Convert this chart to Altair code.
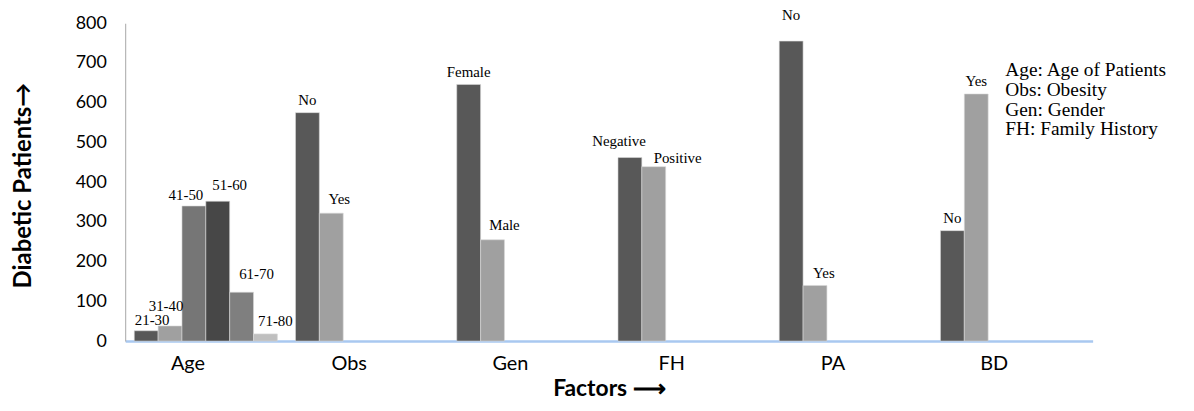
import altair as alt
import pandas as pd

# ---- data ----
factors = ["Age", "Obs", "Gen", "FH", "PA", "BD"]

age_labels = ["21-30", "31-40", "41-50", "51-60", "61-70", "71-80"]
age_values = [26, 38, 340, 352, 123, 18]

obs_labels = ["No", "Yes"]
obs_values = [575, 322]

gen_labels = ["Female", "Male"]
gen_values = [646, 255]

fh_labels = ["Negative", "Positive"]
fh_values = [462, 439]

pa_labels = ["No", "Yes"]
pa_values = [755, 140]

bd_labels = ["No", "Yes"]
bd_values = [278, 622]

y_ticks = [0, 100, 200, 300, 400, 500, 600, 700, 800]

legend_lines = [
    "Age: Age of Patients",
    "Obs: Obesity",
    "Gen: Gender",
    "FH: Family History",
]

# ---- styling (label nudges in px: dx, distance above bar top) ----
slot_colors = ["#585858", "#A0A0A0", "#767676", "#474747", "#7F7F7F", "#BFBFBF"]
LABEL_NUDGE = {
    ("Age", "21-30"): (6, 11),
    ("Age", "31-40"): (-4, 20),
    ("Age", "41-50"): (-8, 11),
    ("Age", "51-60"): (12, 16),
    ("Age", "61-70"): (15, 18),
    ("Age", "71-80"): (10, 13),
    ("Obs", "No"): (0, 13),
    ("Obs", "Yes"): (8, 14),
    ("Gen", "Female"): (0, 12),
    ("Gen", "Male"): (12, 15),
    ("FH", "Negative"): (-11, 17),
    ("FH", "Positive"): (24, 9),
    ("PA", "No"): (0, 26),
    ("PA", "Yes"): (9, 13),
    ("BD", "No"): (0, 13),
    ("BD", "Yes"): (0, 13),
}

groups = [
    ("Age", age_labels, age_values),
    ("Obs", obs_labels, obs_values),
    ("Gen", gen_labels, gen_values),
    ("FH", fh_labels, fh_values),
    ("PA", pa_labels, pa_values),
    ("BD", bd_labels, bd_values),
]
rows = []
for f, labs, vals in groups:
    for i, (lab, v) in enumerate(zip(labs, vals)):
        dx, up = LABEL_NUDGE.get((f, lab), (0, 13))
        rows.append({"factor": f, "slot": i, "label": lab, "value": v,
                     "ndx": dx, "ndy": -up})
df = pd.DataFrame(rows)

W, H = 974, 320
SANS = "Lato"

x_enc = alt.X(
    "factor:N",
    sort=factors,
    scale=alt.Scale(paddingInner=0, paddingOuter=0),
    axis=alt.Axis(
        title="Factors \u27f6",
        titleFont=SANS,
        titleFontSize=23,
        titleFontWeight="bold",
        titleColor="#000000",
        titleX=W / 2,
        titleY=48,
        titleBaseline="middle",
        labelFont=SANS,
        labelFontSize=20,
        labelColor="#000000",
        labelAngle=0,
        labelPadding=13,
        labelOffset=-18,
        ticks=False,
        domainColor="#A9C8F0",
        domainWidth=2.5,
    ),
)
xoff_enc = alt.XOffset(
    "slot:O",
    scale=alt.Scale(domain=[0, 1, 2, 3, 4, 5], paddingInner=0, paddingOuter=0.38),
)
y_enc = alt.Y(
    "value:Q",
    scale=alt.Scale(domain=[0, 800], nice=False),
    axis=alt.Axis(
        values=y_ticks,
        labelOverlap=False,
        title="Diabetic Patients\u2192",
        titleFont=SANS,
        titleFontSize=24,
        titleFontWeight="bold",
        titleColor="#000000",
        titleAngle=-90,
        titleX=-102,
        titleY=H / 2 + 3,
        titleAlign="center",
        titleBaseline="middle",
        labelFont=SANS,
        labelFontSize=18,
        labelColor="#000000",
        labelPadding=19,
        ticks=False,
        grid=False,
        domainColor="#A6A6A6",
        domainWidth=1,
    ),
)

base = alt.Chart(df).encode(x=x_enc, xOffset=xoff_enc, y=y_enc)

bars = base.mark_bar(stroke="#D9D9D9", strokeWidth=0.6).encode(
    color=alt.Color(
        "slot:O",
        scale=alt.Scale(domain=[0, 1, 2, 3, 4, 5], range=slot_colors),
        legend=None,
    ),
)

labels = base.mark_text(
    font="Liberation Serif",
    fontSize=15,
    color="#000000",
    baseline="middle",
    align="center",
    dx=alt.ExprRef("datum.ndx"),
    dy=alt.ExprRef("datum.ndy"),
).encode(
    text="label:N",
)

legend_df = pd.DataFrame({"k": [0]})
legend_text = alt.Chart(legend_df).mark_text(
    font="Liberation Serif",
    fontSize=19.5,
    color="#000000",
    align="left",
    baseline="top",
    lineHeight=20,
).encode(
    x=alt.value(886),
    y=alt.value(38),
    text=alt.value(legend_lines),
)

chart = (
    alt.layer(bars, labels, legend_text)
    .properties(
        width=W,
        height=H,
        autosize=alt.AutoSizeParams(type="none"),
        padding={"left": 118, "top": 14, "right": 94, "bottom": 61},
        background="#FFFFFF",
    )
    .configure_view(stroke=None)
)

chart.save("out.html", embed_options={"renderer": "svg", "actions": False})
